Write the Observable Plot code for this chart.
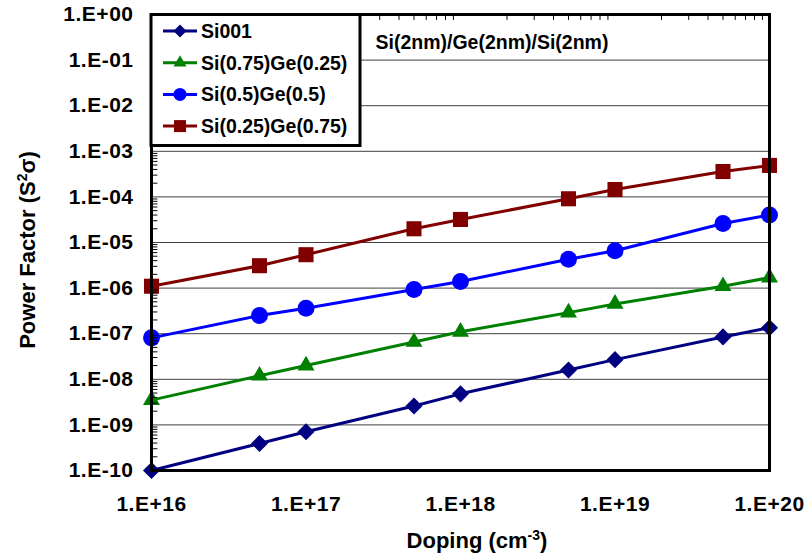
<!DOCTYPE html>
<html><head><meta charset="utf-8">
<script src="https://cdn.jsdelivr.net/npm/d3@7"></script>
<script src="https://cdn.jsdelivr.net/npm/@observablehq/plot@0.6"></script>
<style>
body{margin:0;background:#fff;}
#chart svg{display:block;}
</style></head><body><div id="chart"></div>
<script>
const doping = [1e16, 5e16, 1e17, 5e17, 1e18, 5e18, 1e19, 5e19, 1e20];
const si001 = [1.0e-10, 3.9e-10, 7.1e-10, 2.6e-9, 4.8e-9, 1.6e-8, 2.7e-8, 8.5e-8, 1.35e-7];
const si75ge25 = [3.5e-9, 1.2e-8, 2.0e-8, 6.6e-8, 1.1e-7, 2.9e-7, 4.5e-7, 1.1e-6, 1.7e-6];
const si50ge50 = [8.1e-8, 2.5e-7, 3.6e-7, 9.3e-7, 1.4e-6, 4.3e-6, 6.6e-6, 2.6e-5, 4.0e-5];
const si25ge75 = [1.1e-6, 3.1e-6, 5.4e-6, 2.0e-5, 3.2e-5, 9.1e-5, 1.45e-4, 3.6e-4, 4.9e-4];
const seriesNames = ["Si001", "Si(0.75)Ge(0.25)", "Si(0.5)Ge(0.5)", "Si(0.25)Ge(0.75)"];
const seriesColors = ["#000080", "#008000", "#0000FF", "#800000"];
const seriesSymbols = ["diamond2", "triangle", "circle", "square"];
const xTicks = [1e16, 1e17, 1e18, 1e19, 1e20];
const yTicks = [1e-10, 1e-9, 1e-8, 1e-7, 1e-6, 1e-5, 1e-4, 1e-3, 1e-2, 1e-1, 1e0];
const annotation = "Si(2nm)/Ge(2nm)/Si(2nm)";
const xTitle = "Doping (cm";
const yTitle = "Power Factor (S";

const font = "'Liberation Sans', Arial, sans-serif";
const allSeries = [si001, si75ge25, si50ge50, si25ge75];
const radii = [7.7, 6.3, 8.5, 8.5];
const rows = ys => doping.map((x, i) => ({x, y: ys[i]}));
const minorOf = ticks => ticks.slice(0, -1).flatMap(t => [2,3,4,5,6,7,8,9].map(k => t * k));
const fmt = d => {
  const e = Math.round(Math.log10(d));
  return "1.E" + (e < 0 ? "-" : "+") + String(Math.abs(e)).padStart(2, "0");
};
const tickShape = {draw(context, l) { context.moveTo(0, 0); context.lineTo(0, -l); }};

const marks = [
  Plot.ruleY(yTicks.slice(1, -1), {stroke: "#404040", strokeWidth: 1}),
  Plot.axisY(yTicks, {anchor: "left", tickSize: 0, tickPadding: 18, tickFormat: fmt, fontSize: 21, fontWeight: "bold", label: null}),
  Plot.axisX(xTicks, {anchor: "bottom", tickSize: 0, tickPadding: 26, tickFormat: fmt, fontSize: 21, fontWeight: "bold", label: null}),
  Plot.text([annotation], {text: d => d, frameAnchor: "top-left", textAnchor: "start", lineAnchor: "middle", dx: 224, dy: 28, fontSize: 19.5, fontWeight: "bold", fill: "#000"})
];
allSeries.forEach((ys, i) => {
  marks.push(Plot.line(rows(ys), {x: "x", y: "y", stroke: seriesColors[i], strokeWidth: 3}));
});
allSeries.forEach((ys, i) => {
  marks.push(Plot.dot(rows(ys), {x: "x", y: "y", symbol: seriesSymbols[i], r: radii[i], fill: seriesColors[i], stroke: "none"}));
});
marks.push(Plot.frame({stroke: "#000", strokeWidth: 3}));
// minor ticks: inside on left axis, downward on top edge
marks.push(Plot.vector(minorOf(yTicks), {y: d => d, frameAnchor: "left", rotate: 90, length: 5.5, anchor: "start", shape: tickShape, stroke: "#000", strokeWidth: 1}));
marks.push(Plot.vector(minorOf(xTicks), {x: d => d, frameAnchor: "top", rotate: 180, length: 5, anchor: "start", shape: tickShape, stroke: "#000", strokeWidth: 1}));

const chart = Plot.plot({
  width: 809, height: 558,
  marginLeft: 151, marginRight: 40, marginTop: 14, marginBottom: 88,
  x: {type: "log", domain: [1e16, 1e20]},
  y: {type: "log", domain: [1e-10, 1]},
  style: {fontFamily: font, color: "#000", background: "#fff"},
  marks
});
document.getElementById("chart").appendChild(chart);

const svg = d3.select(chart);
svg.selectAll("g[aria-label$='tick label'] text").style("letter-spacing", "0.5px");
// Axis titles
const yt = svg.append("text").attr("transform", "translate(27,250) rotate(-90)")
  .attr("text-anchor", "middle").attr("dy", "0.35em")
  .style("font", `bold 22px ${font}`).attr("fill", "#000");
yt.append("tspan").text(yTitle);
yt.append("tspan").attr("baseline-shift", "super").style("font-size", "14px").text("2");
yt.append("tspan").text("σ)");
const xt = svg.append("text").attr("transform", "translate(477,540)")
  .attr("text-anchor", "middle").attr("dy", "0.35em")
  .style("font", `bold 22px ${font}`).attr("fill", "#000");
xt.append("tspan").text(xTitle);
xt.append("tspan").attr("baseline-shift", "super").style("font-size", "14px").text("-3");
xt.append("tspan").text(")");

// Legend
const lg = svg.append("g");
lg.append("rect").attr("x", 151).attr("y", 14.5).attr("width", 209).attr("height", 131)
  .attr("fill", "#fff").attr("stroke", "#000").attr("stroke-width", 3);
const legSyms = [d3.symbol(d3.symbolDiamond2, 108), d3.symbol(d3.symbolTriangle, 73), d3.symbol(d3.symbolCircle, 133), d3.symbol(d3.symbolSquare, 144)];
seriesNames.forEach((name, i) => {
  const cy = 31 + i * 31.7;
  lg.append("line").attr("x1", 163).attr("x2", 197).attr("y1", cy).attr("y2", cy)
    .attr("stroke", seriesColors[i]).attr("stroke-width", 3);
  lg.append("path").attr("d", legSyms[i]()).attr("transform", `translate(180,${cy})`).attr("fill", seriesColors[i]);
  lg.append("text").attr("x", 201).attr("y", cy).attr("dy", "0.35em").attr("text-anchor", "start")
    .style("font", `bold 19.5px ${font}`).attr("fill", "#000").text(name);
});
</script></body></html>
